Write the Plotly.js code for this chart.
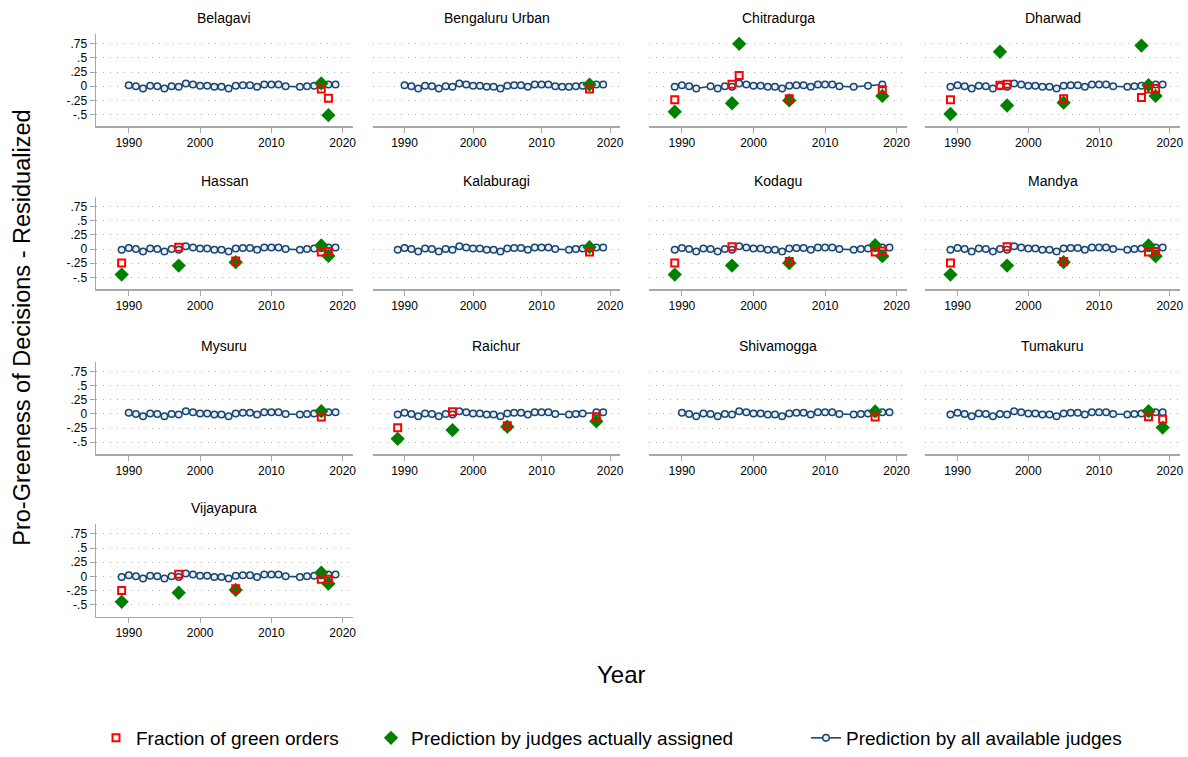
<!DOCTYPE html>
<html><head><meta charset="utf-8">
<script src="https://cdn.plot.ly/plotly-3.0.1.min.js"></script>
<style>html,body{margin:0;padding:0;background:#fff}#chart{width:1188px;height:757px}</style>
</head><body><div id="chart"></div>
<script>
const districts = ["Belagavi","Bengaluru Urban","Chitradurga","Dharwad","Hassan","Kalaburagi","Kodagu","Mandya","Mysuru","Raichur","Shivamogga","Tumakuru","Vijayapura"];

// Prediction by all available judges (common path across districts)
const allYears = [1989,1990,1991,1992,1993,1994,1995,1996,1997,1998,1999,2000,2001,2002,2003,2004,2005,2006,2007,2008,2009,2010,2011,2012,2013,2014,2015,2016,2017,2018,2019];
const allJudgesPrediction = [-0.01,0.02,0.00,-0.04,0.01,0.00,-0.04,0.00,-0.01,0.05,0.03,0.01,0.01,-0.01,-0.01,-0.04,0.01,0.02,0.02,-0.01,0.03,0.03,0.03,0.00,-0.01,-0.01,0.00,0.01,0.02,0.03,0.03];

// Years with no "all judges" point, per district
const belagaviSkip = [1989,2013];
const bengaluruSkip = [1989];
const chitradurgaSkip = [1993,2013,2015,2017,2019];
const dharwadSkip = [2013];
const hassanSkip = [2013];
const kalaburagiSkip = [2013];
const kodaguSkip = [2013];
const mandyaSkip = [2013];
const mysuruSkip = [1989,2013];
const raichurSkip = [2013,2017];
const shivamoggaSkip = [1989,2013];
const tumakuruSkip = [2013];
const vijayapuraSkip = [2013];

// Fraction of green orders / prediction by judges actually assigned
const belagaviYears = [2017,2018];
const belagaviFraction = [-0.05,-0.21];
const belagaviAssigned = [0.05,-0.51];
const bengaluruYears = [2017];
const bengaluruFraction = [-0.05];
const bengaluruAssigned = [0.03];
const chitradurgaYears = [1989,1997,1998,2005,2018];
const chitradurgaFraction = [-0.24,0.035,0.19,-0.22,-0.06];
const chitradurgaAssigned = [-0.45,-0.30,0.75,-0.25,-0.17];
const dharwadYears = [1989,1996,1997,2005,2016,2017,2018];
const dharwadFraction = [-0.24,0.02,0.035,-0.22,-0.20,-0.05,-0.04];
const dharwadAssigned = [-0.49,0.61,-0.34,-0.29,0.72,0.02,-0.17];
const hassanYears = [1989,1997,2005,2017,2018];
const hassanFraction = [-0.245,0.035,-0.21,-0.05,-0.04];
const hassanAssigned = [-0.45,-0.29,-0.23,0.065,-0.12];
const kalaburagiYears = [2017];
const kalaburagiFraction = [-0.05];
const kalaburagiAssigned = [0.035];
const kodaguYears = [1989,1997,2005,2017,2018];
const kodaguFraction = [-0.245,0.04,-0.22,-0.05,-0.035];
const kodaguAssigned = [-0.45,-0.29,-0.245,0.07,-0.125];
const mandyaYears = [1989,1997,2005,2017,2018];
const mandyaFraction = [-0.245,0.04,-0.22,-0.05,-0.04];
const mandyaAssigned = [-0.45,-0.29,-0.23,0.065,-0.125];
const mysuruYears = [2017];
const mysuruFraction = [-0.055];
const mysuruAssigned = [0.05];
const raichurYears = [1989,1997,2005,2018];
const raichurFraction = [-0.245,0.04,-0.21,-0.05];
const raichurAssigned = [-0.44,-0.285,-0.225,-0.13];
const shivamoggaYears = [2017];
const shivamoggaFraction = [-0.055];
const shivamoggaAssigned = [0.045];
const tumakuruYears = [2017,2019];
const tumakuruFraction = [-0.05,-0.095];
const tumakuruAssigned = [0.05,-0.24];
const vijayapuraYears = [1989,1997,2005,2017,2018];
const vijayapuraFraction = [-0.25,0.035,-0.22,-0.05,-0.05];
const vijayapuraAssigned = [-0.45,-0.29,-0.24,0.065,-0.13];

const yTickVals = [-0.5,-0.25,0,0.25,0.5,0.75];
const yTickText = ["-.5","-.25","0",".25",".5",".75"];
const xTickVals = [1990,2000,2010,2020];

const skips = [belagaviSkip,bengaluruSkip,chitradurgaSkip,dharwadSkip,hassanSkip,kalaburagiSkip,kodaguSkip,mandyaSkip,mysuruSkip,raichurSkip,shivamoggaSkip,tumakuruSkip,vijayapuraSkip];
const pointYears = [belagaviYears,bengaluruYears,chitradurgaYears,dharwadYears,hassanYears,kalaburagiYears,kodaguYears,mandyaYears,mysuruYears,raichurYears,shivamoggaYears,tumakuruYears,vijayapuraYears];
const fractions = [belagaviFraction,bengaluruFraction,chitradurgaFraction,dharwadFraction,hassanFraction,kalaburagiFraction,kodaguFraction,mandyaFraction,mysuruFraction,raichurFraction,shivamoggaFraction,tumakuruFraction,vijayapuraFraction];
const assigned = [belagaviAssigned,bengaluruAssigned,chitradurgaAssigned,dharwadAssigned,hassanAssigned,kalaburagiAssigned,kodaguAssigned,mandyaAssigned,mysuruAssigned,raichurAssigned,shivamoggaAssigned,tumakuruAssigned,vijayapuraAssigned];

const W = 1188, H = 757;
const FONT = "Liberation Sans, Arial, sans-serif";
const colPx = [[96,353],[373,620],[649,907],[925,1180]];
const rowBottomPx = [127,290.5,456,619];
const panelH = 93;

const BLUE = "#1a476f", GREEN = "#008000", RED = "#ff0000";
const data = [];
const legY = 1 - 741 / H;
const layout = {
  width: W, height: H,
  margin: {l:0,r:0,t:0,b:0},
  paper_bgcolor: "#ffffff", plot_bgcolor: "#ffffff",
  font: {family: FONT, color: "#000"},
  showlegend: true,
  annotations: [],
  legend:  {x: 96/W, y: legY, xanchor:"left", yanchor:"middle", font:{size:19,family:FONT}, bgcolor:"rgba(0,0,0,0)"},
  legend2: {x: 371/W, y: legY, xanchor:"left", yanchor:"middle", font:{size:19,family:FONT}, bgcolor:"rgba(0,0,0,0)"},
  legend3: {x: 806/W, y: legY, xanchor:"left", yanchor:"middle", font:{size:19,family:FONT}, bgcolor:"rgba(0,0,0,0)"}
};

districts.forEach((name, i) => {
  const col = i % 4, row = Math.floor(i / 4);
  const k = i === 0 ? "" : String(i + 1);
  const xa = "x" + k, ya = "y" + k;
  const bx = [], by = [];
  allYears.forEach((yr, j) => { if (!skips[i].includes(yr)) { bx.push(yr); by.push(allJudgesPrediction[j]); } });
  data.push({type:"scatter", mode:"lines+markers", x:bx, y:by, xaxis:xa, yaxis:ya,
    name:"Prediction by all available judges", legend:"legend3", showlegend: i===0,
    line:{color:BLUE, width:1.6},
    marker:{symbol:"circle", size:6.5, color:"#e8eef5", line:{color:BLUE, width:1.5}}});
  data.push({type:"scatter", mode:"markers", x:pointYears[i], y:assigned[i], xaxis:xa, yaxis:ya,
    name:"Prediction by judges actually assigned", legend:"legend2", showlegend: i===0,
    marker:{symbol:"diamond", size:11, color:GREEN}});
  data.push({type:"scatter", mode:"markers", x:pointYears[i], y:fractions[i], xaxis:xa, yaxis:ya,
    name:"Fraction of green orders", legend:"legend", showlegend: i===0,
    marker:{symbol:"square-open", size:7, color:RED, line:{width:2, color:RED}}});

  const top = rowBottomPx[row] - panelH;
  layout["xaxis" + k] = {
    domain:[colPx[col][0]/W, colPx[col][1]/W], anchor: ya,
    range:[1985.4, 2021.45], tickvals: xTickVals, ticks:"outside", ticklen:5,
    tickcolor:"#a8a8a8", showline:true, linecolor:"#a8a8a8", linewidth:1.5,
    showgrid:false, zeroline:false, tickfont:{size:12, family:FONT, color:"#000"}
  };
  layout["yaxis" + k] = {
    domain:[1-rowBottomPx[row]/H, 1-top/H], anchor: xa,
    range:[-0.711, 0.926], tickvals:yTickVals, ticktext:yTickText,
    showticklabels: col===0, ticks: col===0 ? "outside" : "", ticklen:5, tickcolor:"#a8a8a8",
    showline: col===0, linecolor:"#a8a8a8", linewidth:1.5,
    showgrid:true, gridcolor:"#b4b4b4", gridwidth:1, griddash:"1px,6px",
    zeroline:false, tickfont:{size:12, family:FONT, color:"#000"}
  };
  layout.annotations.push({
    text:name, xref:"paper", yref:"paper",
    x:(colPx[col][0]+colPx[col][1])/2/W, y:1-(top-16)/H,
    xanchor:"center", yanchor:"middle", showarrow:false,
    font:{size:14, family:FONT, color:"#000"}
  });
});

layout.annotations.push({text:"Year", xref:"paper", yref:"paper", x:621/W, y:1-677/H,
  xanchor:"center", yanchor:"middle", showarrow:false, font:{size:24, family:FONT, color:"#000"}});
layout.annotations.push({text:"Pro-Greeness of Decisions - Residualized", xref:"paper", yref:"paper",
  x:22/W, y:1-329/H, xanchor:"center", yanchor:"middle", textangle:-90, showarrow:false,
  font:{size:23.5, family:FONT, color:"#000"}});

Plotly.newPlot("chart", data, layout, {staticPlot:true, displayModeBar:false});
</script></body></html>
